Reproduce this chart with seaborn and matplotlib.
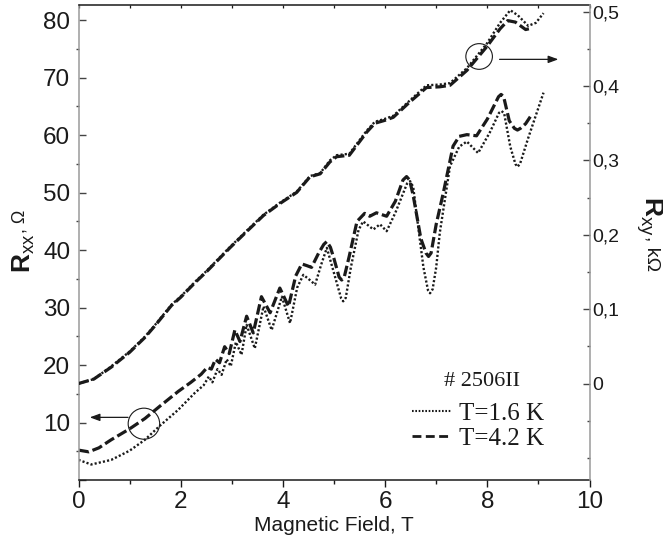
import matplotlib
matplotlib.use("Agg")
import matplotlib.pyplot as plt
import seaborn as sns
from matplotlib.patches import Ellipse
from matplotlib.lines import Line2D
from matplotlib.ticker import FixedLocator, MultipleLocator

# ---------------- data ----------------
# R_xx, T = 4.2 K (dashed), Ohm
b_xx_42 = [0, 0.2, 0.4, 0.64, 1.0, 1.3, 1.6, 1.95, 2.2, 2.4, 2.52, 2.6, 2.68, 2.76, 2.86, 2.95,
           3.06, 3.16, 3.29, 3.42, 3.58, 3.75, 3.94, 4.11, 4.25, 4.37, 4.47, 4.56, 4.7, 4.8, 4.86,
           4.93, 5.0, 5.1, 5.15, 5.2, 5.3, 5.45, 5.6, 5.7, 5.83, 6.03, 6.2, 6.35, 6.42, 6.48, 6.55,
           6.7, 6.8, 6.85, 6.9, 7.0, 7.14, 7.33, 7.45, 7.6, 7.79, 8.0, 8.22, 8.27, 8.32, 8.43,
           8.53, 8.59, 8.65, 8.75, 8.87]
r_xx_42 = [5.2, 4.9, 5.6, 7.0, 8.9, 10.7, 12.9, 15.4, 17.0, 18.4, 19.6, 19.3, 21.0, 20.4, 23.2, 22.0,
           26.1, 24.1, 28.5, 25.6, 31.9, 29.1, 33.4, 30.2, 35.5, 37.6, 37.3, 37.0, 39.5, 41.0, 41.5,
           40.5, 38.5, 35.3, 34.8, 35.3, 39.0, 45.0, 46.4, 45.9, 46.5, 45.9, 48.5, 52.2, 52.8, 52.2, 49.5,
           42.0, 39.5, 38.9, 39.5, 44.5, 50.0, 58.1, 59.8, 60.1, 59.9, 62.8, 66.7, 67.1, 66.7, 62.5,
           61.2, 60.9, 61.2, 62.0, 63.6]

# R_xx, T = 1.6 K (dotted), Ohm
b_xx_16 = [0, 0.25, 0.64, 1.0, 1.3, 1.6, 1.95, 2.27, 2.45, 2.55, 2.62, 2.72, 2.8, 2.9, 2.98,
           3.08, 3.19, 3.29, 3.45, 3.62, 3.78, 3.98, 4.14, 4.28, 4.4, 4.5, 4.63, 4.75, 4.86,
           5.0, 5.14, 5.18, 5.23, 5.33, 5.48, 5.57, 5.77, 5.9, 6.03, 6.2, 6.43, 6.49, 6.55, 6.62,
           6.75, 6.84, 6.88, 6.93, 7.0, 7.07, 7.27, 7.45, 7.6, 7.82, 8.05, 8.23, 8.28, 8.33, 8.45,
           8.55, 8.59, 8.64, 8.8, 9.1]
r_xx_16 = [3.5, 2.7, 3.5, 5.1, 7.0, 9.5, 12.2, 15.1, 16.5, 18.0, 17.0, 19.3, 18.3, 21.0, 19.8,
           24.0, 21.8, 27.0, 22.9, 30.2, 26.1, 31.9, 27.3, 33.5, 35.7, 35.0, 34.0, 37.5, 40.4,
           36.0, 31.6, 31.1, 31.7, 37.0, 43.5, 45.0, 43.6, 44.5, 43.3, 46.5, 51.6, 52.0, 51.0, 46.0,
           37.0, 33.0, 32.5, 33.2, 37.0, 43.0, 54.6, 58.0, 58.9, 56.9, 60.5, 63.9, 64.2, 63.8, 58.0,
           55.0, 54.5, 55.0, 59.5, 67.4]

# R_xy (kOhm)
b_xy_42 = [0, 0.3, 0.64, 1.0, 1.3, 1.5, 1.82, 2.0, 2.3, 2.5, 2.97, 3.3, 3.62, 3.94, 4.27, 4.53,
           4.73, 4.92, 5.05, 5.3, 5.64, 5.8, 6.0, 6.16, 6.49, 6.81, 7.07, 7.27, 7.6, 7.99, 8.25,
           8.4, 8.55, 8.75, 8.88]
r_xy_42 = [0.0, 0.006, 0.022, 0.042, 0.062, 0.078, 0.105, 0.116, 0.137, 0.150, 0.183, 0.205,
           0.226, 0.242, 0.257, 0.278, 0.282, 0.298, 0.305, 0.307, 0.338, 0.350, 0.354, 0.358,
           0.379, 0.398, 0.399, 0.401, 0.421, 0.453, 0.477, 0.488, 0.486, 0.476, 0.478]
b_xy_16 = [0, 0.3, 0.64, 1.0, 1.3, 1.5, 1.82, 2.0, 2.3, 2.5, 2.97, 3.3, 3.62, 3.94, 4.27, 4.53,
           4.73, 4.92, 5.05, 5.3, 5.64, 5.8, 6.0, 6.16, 6.49, 6.81, 7.07, 7.27, 7.6, 7.99, 8.25,
           8.45, 8.6, 8.8, 8.95, 9.1]
r_xy_16 = [0.0, 0.006, 0.023, 0.043, 0.063, 0.079, 0.106, 0.117, 0.138, 0.151, 0.184, 0.206,
           0.227, 0.243, 0.258, 0.279, 0.283, 0.300, 0.307, 0.309, 0.340, 0.352, 0.356, 0.360,
           0.381, 0.401, 0.402, 0.404, 0.424, 0.457, 0.485, 0.502, 0.495, 0.481, 0.485, 0.498]

x_ticks = [0, 2, 4, 6, 8, 10]
left_ticks = [0, 10, 20, 30, 40, 50, 60, 70, 80]
left_labels = ["", "10", "20", "30", "40", "50", "60", "70", "80"]
right_ticks = [0, 0.1, 0.2, 0.3, 0.4, 0.5]
right_labels = ["0", "0,1", "0,2", "0,3", "0,4", "0,5"]
legend_title = "# 2506II"
series_labels = ["T=1.6 K", "T=4.2 K"]

# ---------------- style ----------------
sns.set_style("ticks")
plt.rcParams["font.family"] = ["Liberation Sans", "DejaVu Sans"]
plt.rcParams["mathtext.fontset"] = "custom"
plt.rcParams["mathtext.rm"] = "Liberation Sans"
plt.rcParams["mathtext.bf"] = "Liberation Sans:bold"
plt.rcParams["mathtext.it"] = "Liberation Sans:italic"

INK = "#1a1a1a"
GRAY = "#9a9a9a"
DASH = (0, (3.3, 1.2))
DOT = (0, (0.9, 0.9))
LW_DASH = 2.3
LW_DOT = 1.7

fig = plt.figure(figsize=(6.63, 5.43), dpi=100)
ax = fig.add_axes([78.5 / 663, 63 / 543, 511 / 663, 475 / 543])
ax2 = ax.twinx()

line_kw = dict(estimator=None, sort=False, color=INK)
sns.lineplot(x=b_xx_16, y=r_xx_16, ax=ax, lw=LW_DOT, linestyle=DOT, **line_kw)
sns.lineplot(x=b_xx_42, y=r_xx_42, ax=ax, lw=LW_DASH, linestyle=DASH, **line_kw)
sns.lineplot(x=b_xy_16, y=r_xy_16, ax=ax2, lw=LW_DOT, linestyle=DOT, **line_kw)
sns.lineplot(x=b_xy_42, y=r_xy_42, ax=ax2, lw=LW_DASH, linestyle=DASH, **line_kw)
for a in (ax, ax2):
    for ln in a.get_lines():
        ln.set_dash_joinstyle("round")
        ln.set_dash_capstyle("butt")

ax.set_xlim(0, 10)
ax.set_ylim(0, 82.66)
ax2.set_ylim(-0.1297, 0.509)

# x axis
ax.xaxis.set_major_locator(FixedLocator(x_ticks))
ax.xaxis.set_minor_locator(MultipleLocator(1))
ax.tick_params(axis="x", which="major", direction="out", length=5, width=1.0,
               color=INK, labelsize=17.5, labelcolor=INK, pad=3)
ax.tick_params(axis="x", which="minor", direction="out", length=3, width=1.0, color=INK)
ax.set_xlabel("Magnetic Field, T", fontsize=15, color=INK, labelpad=2)

top = ax.secondary_xaxis("top")
top.set_xticks(list(range(0, 11)))
top.tick_params(axis="x", direction="in", length=2.5, width=0.9, color=INK, labeltop=False)
top.spines["top"].set_visible(False)

# left y axis
ax.yaxis.set_major_locator(FixedLocator(left_ticks))
ax.set_yticklabels(left_labels)
ax.yaxis.set_minor_locator(MultipleLocator(5))
ax.tick_params(axis="y", which="major", direction="in", length=5, width=1.0, color="#444444",
               labelsize=17.5, labelcolor=INK, pad=6)
ax.tick_params(axis="y", which="minor", direction="out", length=2.2, width=1.0, color="#444444")
ax.set_ylabel("")

# right y axis
ax2.yaxis.set_major_locator(FixedLocator(right_ticks))
ax2.set_yticklabels(right_labels)
ax2.yaxis.set_minor_locator(MultipleLocator(0.05))
ax2.tick_params(axis="y", which="major", direction="in", length=5, width=1.0, color="#444444",
                labelsize=14, labelcolor=INK, pad=2)
ax2.tick_params(axis="y", which="minor", direction="in", length=2.2, width=1.0, color="#444444")
ax2.set_ylabel("")

for s in ["top", "bottom"]:
    ax.spines[s].set_color(INK)
    ax.spines[s].set_linewidth(1.1)
    ax.spines[s].set_visible(True)
ax.spines["left"].set_color(GRAY)
ax.spines["left"].set_linewidth(1.1)
ax.spines["right"].set_visible(False)
for s in ["top", "bottom", "left"]:
    ax2.spines[s].set_visible(False)
ax2.spines["right"].set_visible(True)
ax2.spines["right"].set_color(GRAY)
ax2.spines["right"].set_linewidth(1.1)

# axis titles (big bold R with subscript, then smaller unit)
t1 = fig.text(24 / 663, (543 - 273) / 543, r"$\mathbf{R}_{\mathrm{xx}}$", rotation=90,
              fontsize=19, ha="center", va="bottom", color=INK)
ax.annotate(", \u03a9", xy=(0.35, 1.0), xycoords=t1, rotation=90, fontsize=13,
            ha="center", va="bottom", color=INK)
t2 = fig.text(649 / 663, (543 - 196) / 543, r"$\mathbf{R}_{\mathrm{xy}}$", rotation=-90,
              fontsize=19, ha="center", va="top", color=INK)
ax.annotate(", k\u03a9", xy=(0.6, 0.0), xycoords=t2, rotation=-90, fontsize=14,
            ha="center", va="top", color=INK)

# guide circles and arrows
ax.add_patch(Ellipse((1.28, 9.8), width=0.616, height=5.4, fill=False, lw=0.8, ec=INK))
ax.add_patch(Ellipse((7.84, 73.7), width=0.52, height=4.47, fill=False, lw=0.8, ec=INK))
arrow_kw = dict(arrowstyle="-|>,head_length=0.6,head_width=0.22", lw=0.9, color=INK,
                shrinkA=0, shrinkB=0, mutation_scale=10)
ax.annotate("", xy=(0.22, 10.9), xytext=(0.97, 10.9), arrowprops=arrow_kw)
ax.annotate("", xy=(9.39, 73.2), xytext=(8.24, 73.2), arrowprops=arrow_kw)

# legend
ax2.text(0.79, 0.208, legend_title, transform=ax2.transAxes, ha="center", va="center",
         fontsize=16, family="Liberation Serif", color=INK)
handles = [Line2D([], [], color=INK, lw=1.5, linestyle=(0, (0.8, 0.8))),
           Line2D([], [], color=INK, lw=2.0, linestyle=(0, (3.2, 1.6)))]
leg = ax2.legend(handles, series_labels, loc="upper left",
                 bbox_to_anchor=(0.653, 0.163), frameon=False, borderpad=0, borderaxespad=0,
                 handlelength=1.6, handletextpad=0.28, labelspacing=0.08,
                 prop={"family": "Liberation Serif", "size": 18})
for t in leg.get_texts():
    t.set_color(INK)

fig.savefig("out.png", dpi=100)
